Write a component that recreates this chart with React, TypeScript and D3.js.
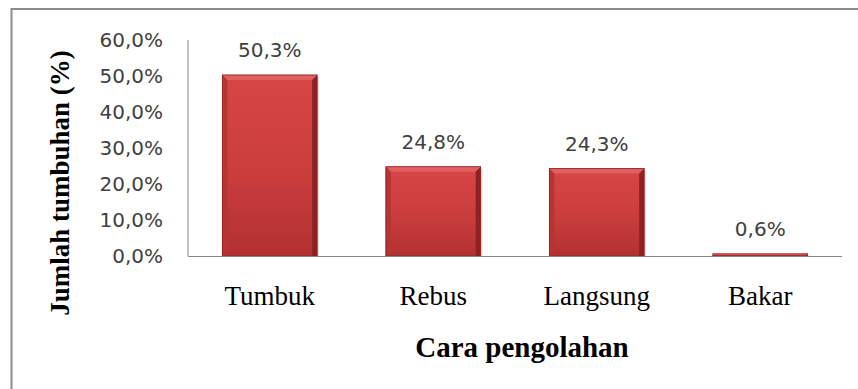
import React from "react";
import * as d3 from "d3";

const categories = ["Tumbuk", "Rebus", "Langsung", "Bakar"];
const values = [50.3, 24.8, 24.3, 0.6];
const valueLabels = ["50,3%", "24,8%", "24,3%", "0,6%"];
const yTicks = [0, 10, 20, 30, 40, 50, 60];
const yTitle = "Jumlah tumbuhan  (%)";
const xTitle = "Cara pengolahan";

const W = 858;
const H = 389;
const plot = { left: 188, right: 842, top: 40, bottom: 256 };

const fmt = (v: number) => v.toFixed(1).replace(".", ",") + "%";

function Bar({ x, y, w, h }: { x: number; y: number; w: number; h: number }) {
  const b = Math.min(5, h / 2, w / 2);
  if (h < 1) return null;
  return (
    <g>
      {/* soft drop shadow on the right */}
      <rect x={x + 2} y={y + 2} width={w} height={h - 2} fill="#000" opacity={0.12} />
      <rect x={x} y={y} width={w} height={h} fill="url(#barBody)" />
      {/* bevel edges */}
      <polygon points={`${x},${y} ${x + w},${y} ${x + w - b},${y + b} ${x + b},${y + b}`} fill="#e06060" />
      <polygon points={`${x},${y} ${x + b},${y + b} ${x + b},${y + h} ${x},${y + h}`} fill="#b53434" />
      <polygon points={`${x + w},${y} ${x + w},${y + h} ${x + w - b},${y + h} ${x + w - b},${y + b}`} fill="#8e2222" />
      <rect x={x} y={y} width={w} height={h} fill="none" stroke="#8a2020" strokeWidth={0.8} />
    </g>
  );
}

export default function App() {
  const x = d3.scaleBand<string>().domain(categories).range([plot.left, plot.right]).paddingInner(0.42).paddingOuter(0.21);
  const y = d3.scaleLinear().domain([0, 60]).range([plot.bottom, plot.top]);
  const sans = "'DejaVu Sans', Verdana, sans-serif";
  const times = "'Liberation Serif', 'Times New Roman', serif";

  return (
    <svg width={W} height={H} style={{ position: "absolute", left: 0, top: 0, background: "#fff" }}>
      <defs>
        <linearGradient id="barBody" x1="0" y1="0" x2="0" y2="1">
          <stop offset="0" stopColor="#d84646" />
          <stop offset="0.5" stopColor="#cc3e3e" />
          <stop offset="1" stopColor="#b33131" />
        </linearGradient>
      </defs>
      {/* outer frame */}
      <rect x={11.5} y={9} width={W} height={H} fill="none" stroke="#8c8c8c" strokeWidth={2} />

      {/* value axis line */}
      <line x1={plot.left} x2={plot.left} y1={plot.top} y2={plot.bottom} stroke="#868686" strokeWidth={1} />

      {yTicks.map((t) => (
        <text key={t} x={163} y={y(t) + 7} textAnchor="end" fontFamily={sans} fontSize={20} fill="#404040">
          {fmt(t)}
        </text>
      ))}

      {categories.map((c, i) => {
        const bx = x(c)!;
        const bw = x.bandwidth();
        const top = y(values[i]);
        return (
          <g key={c}>
            <Bar x={bx} y={top} w={bw} h={plot.bottom - top} />
            <text x={bx + bw / 2} y={top - 18} textAnchor="middle" fontFamily={sans} fontSize={20} fill="#404040">
              {valueLabels[i]}
            </text>
            <text x={bx + bw / 2} y={305} textAnchor="middle" fontFamily={times} fontSize={27} fill="#000">
              {c}
            </text>
          </g>
        );
      })}

      <line x1={plot.left} x2={plot.right} y1={plot.bottom + 0.5} y2={plot.bottom + 0.5} stroke="#868686" strokeWidth={1.2} />

      <text x={522} y={357} textAnchor="middle" fontFamily={times} fontWeight="bold" fontSize={29} fill="#000">
        {xTitle}
      </text>
      <text transform={`translate(69, 183) rotate(-90)`} textAnchor="middle" fontFamily={times} fontWeight="bold" fontSize={27} fill="#000">
        {yTitle}
      </text>
    </svg>
  );
}
